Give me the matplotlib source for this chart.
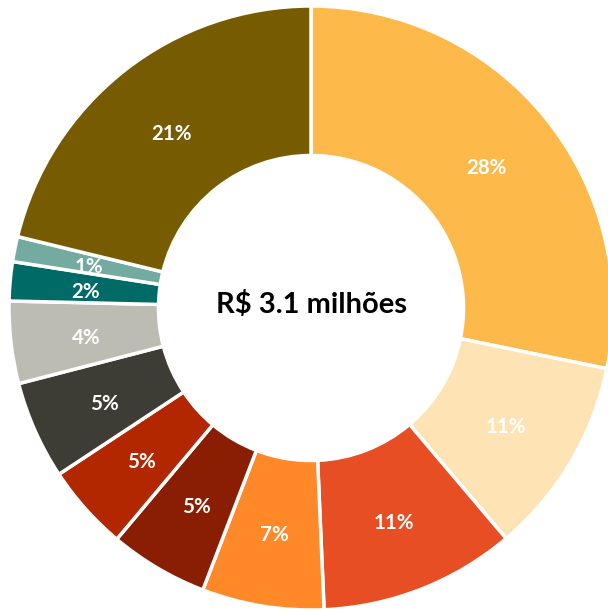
import matplotlib
matplotlib.use("Agg")
import matplotlib.pyplot as plt

categories = ["A", "B", "C", "D", "E", "F", "G", "H", "I", "J", "K"]
shares = [28.22, 10.60, 10.49, 6.52, 5.29, 4.60, 5.25, 4.40, 2.09, 1.34, 21.20]
pct_labels = ["28%", "11%", "11%", "7%", "5%", "5%", "5%", "4%", "2%", "1%", "21%"]
colors = ["#FDBA4A", "#FEE3B4", "#E84E23", "#FF8828", "#8A1E03", "#B22600",
          "#3D3C35", "#BDBCB2", "#006A66", "#73ABA1", "#775B00"]
center_label = "R$ 3.1 milhões"

label_iter = iter(pct_labels)

fig = plt.figure(figsize=(6.08, 6.11), dpi=100)
ax = fig.add_axes([9/608, 1/611, 604/608, 604/611])
wedges, texts, autotexts = ax.pie(
    shares, colors=colors, startangle=90, counterclock=False, radius=1,
    autopct=lambda p: next(label_iter), pctdistance=0.75,
    wedgeprops=dict(width=0.495, edgecolor="white", linewidth=2.5),
    textprops=dict(color="white", fontsize=14.8, fontweight="bold", family=["Lato", "DejaVu Sans"]),
)
for t in autotexts:
    x, y = t.get_position()
    t.set_position((x, y - 0.012))
ax.text(0, 0.012, center_label, ha="center", va="center", fontsize=21,
        fontweight="bold", color="black", family=["Lato", "DejaVu Sans"])
ax.set_xlim(-1, 1)
ax.set_ylim(-1, 1)
ax.set_aspect("equal")
ax.axis("off")
fig.savefig("out.png", dpi=100)
